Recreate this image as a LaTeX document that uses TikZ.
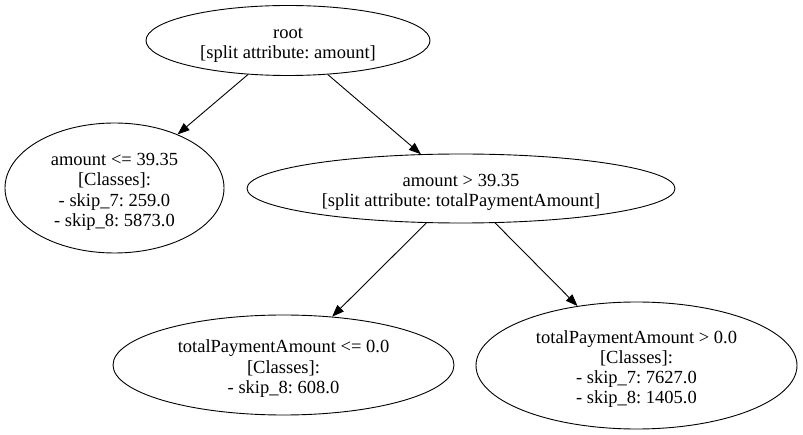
\documentclass[tikz,border=0pt]{standalone}
\usepackage{fontspec}
\setmainfont{Liberation Serif}
\usetikzlibrary{shapes.geometric,arrows.meta}
\frenchspacing
\newcommand{\firstline}{\rule{0pt}{20pt}}
\begin{document}
\begin{tikzpicture}[x=1pt,y=-1pt,
        treenode/.style={draw=black, line width=0.9pt, ellipse, inner sep=0pt, align=center,
                font=\fontsize{18.5}{20.3}\selectfont},
        treeedge/.style={draw=black, line width=0.9pt, -{Triangle[length=12pt,width=9pt]}}]
        \useasboundingbox (0,0) rectangle (803,435);

        \node [treenode, minimum width=284pt, minimum height=70pt] (root) at (288,40.5)
                {\firstline root\\{[split attribute: amount]}};
        \node [treenode, minimum width=219pt, minimum height=130pt] (amountle) at (114.5,188)
                {\firstline amount <= 39.35\\{[Classes]:}\\- skip\_7: 259.0\\- skip\_8: 5873.0};
        \node [treenode, minimum width=428pt, minimum height=69pt] (amountgt) at (461,188.5)
                {\firstline amount > 39.35\\{[split attribute: totalPaymentAmount]}};
        \node [treenode, minimum width=341pt, minimum height=100pt] (paymentle) at (283.5,365)
                {\firstline totalPaymentAmount <= 0.0\\{[Classes]:}\\- skip\_8: 608.0};
        \node [treenode, minimum width=321pt, minimum height=127pt] (paymentgt) at (636.5,365.5)
                {\firstline totalPaymentAmount > 0.0\\{[Classes]:}\\- skip\_7: 7627.0\\- skip\_8: 1405.0};

        \draw [treeedge] (root) -- (amountle);
        \draw [treeedge] (root) -- (amountgt);
        \draw [treeedge] (amountgt) -- (paymentle);
        \draw [treeedge] (amountgt) -- (paymentgt);

\end{tikzpicture}
\end{document}
